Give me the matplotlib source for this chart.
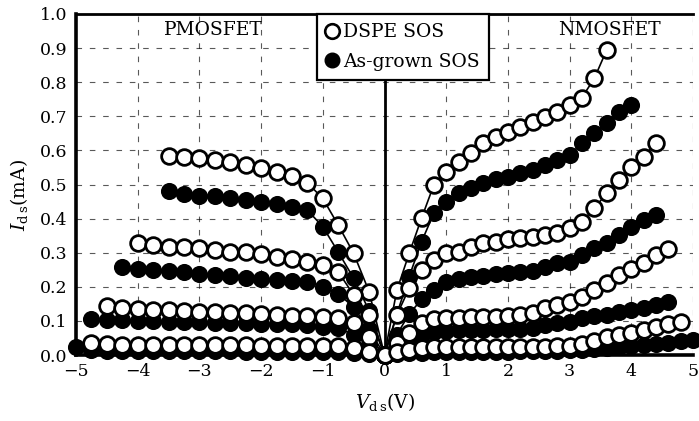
import numpy as np
import matplotlib
matplotlib.use('Agg')
import matplotlib.pyplot as plt
from matplotlib.lines import Line2D

plt.rcParams['font.family'] = ['DejaVu Serif']
plt.rcParams['mathtext.fontset'] = 'dejavuserif'

# voltage grids (V)
vp = [-5.0, -4.75, -4.5, -4.25, -4.0, -3.75, -3.5, -3.25, -3.0, -2.75, -2.5,
      -2.25, -2.0, -1.75, -1.5, -1.25, -1.0, -0.75, -0.5, -0.25, 0.0]
vn = [0.0, 0.2, 0.4, 0.6, 0.8, 1.0, 1.2, 1.4, 1.6, 1.8, 2.0, 2.2, 2.4, 2.6,
      2.8, 3.0, 3.2, 3.4, 3.6, 3.8, 4.0, 4.2, 4.4, 4.6, 4.8, 5.0]

# PMOSFET curves (mA), each ends at Vds = 0
p_open = [
    [0.584, 0.582, 0.577, 0.572, 0.565, 0.558, 0.549, 0.538, 0.526, 0.505,
     0.459, 0.381, 0.298, 0.186, 0.0],
    [0.327, 0.323, 0.318, 0.316, 0.313, 0.308, 0.303, 0.301, 0.295, 0.288,
     0.281, 0.274, 0.264, 0.244, 0.176, 0.117, 0.0],
    [0.145, 0.139, 0.136, 0.133, 0.131, 0.129, 0.127, 0.125, 0.123, 0.122,
     0.120, 0.117, 0.115, 0.113, 0.110, 0.108, 0.094, 0.053, 0.0],
    [0.034, 0.031, 0.030, 0.030, 0.030, 0.029, 0.029, 0.029, 0.028, 0.028,
     0.028, 0.027, 0.027, 0.027, 0.026, 0.026, 0.025, 0.020, 0.009, 0.0],
]
p_fill = [
    [0.481, 0.472, 0.467, 0.465, 0.460, 0.455, 0.450, 0.443, 0.435, 0.425,
     0.376, 0.302, 0.225, 0.130, 0.0],
    [0.257, 0.251, 0.249, 0.247, 0.244, 0.239, 0.236, 0.232, 0.227, 0.224,
     0.221, 0.217, 0.214, 0.200, 0.180, 0.140, 0.075, 0.0],
    [0.107, 0.104, 0.102, 0.100, 0.099, 0.098, 0.097, 0.096, 0.095, 0.094,
     0.093, 0.092, 0.091, 0.090, 0.088, 0.083, 0.078, 0.060, 0.030, 0.0],
    [0.022, 0.014, 0.012, 0.012, 0.012, 0.012, 0.011, 0.011, 0.011, 0.011,
     0.011, 0.010, 0.010, 0.010, 0.010, 0.010, 0.009, 0.008, 0.006, 0.004, 0.0],
]

# NMOSFET curves (mA), each starts at Vds = 0
n_open = [
    [0.0, 0.190, 0.298, 0.401, 0.499, 0.538, 0.567, 0.591, 0.621, 0.640,
     0.655, 0.670, 0.684, 0.699, 0.713, 0.733, 0.755, 0.811, 0.894],
    [0.0, 0.117, 0.196, 0.250, 0.279, 0.298, 0.303, 0.318, 0.327, 0.332,
     0.339, 0.342, 0.347, 0.352, 0.357, 0.373, 0.391, 0.430, 0.474, 0.513,
     0.552, 0.582, 0.623],
    [0.0, 0.034, 0.064, 0.093, 0.105, 0.108, 0.109, 0.110, 0.111, 0.112,
     0.115, 0.118, 0.124, 0.137, 0.147, 0.156, 0.171, 0.191, 0.210, 0.235,
     0.251, 0.269, 0.293, 0.310],
    [0.0, 0.010, 0.015, 0.020, 0.022, 0.023, 0.024, 0.024, 0.024, 0.024,
     0.024, 0.024, 0.024, 0.024, 0.025, 0.027, 0.032, 0.042, 0.052, 0.060,
     0.065, 0.073, 0.083, 0.090, 0.097],
]
n_fill = [
    [0.0, 0.120, 0.230, 0.332, 0.416, 0.450, 0.474, 0.489, 0.503, 0.515,
     0.523, 0.533, 0.543, 0.557, 0.572, 0.586, 0.621, 0.652, 0.679, 0.713,
     0.733],
    [0.0, 0.060, 0.120, 0.163, 0.190, 0.215, 0.222, 0.228, 0.233, 0.237,
     0.241, 0.244, 0.247, 0.259, 0.269, 0.274, 0.293, 0.315, 0.329, 0.352,
     0.376, 0.396, 0.411],
    [0.0, 0.025, 0.045, 0.060, 0.068, 0.071, 0.072, 0.073, 0.074, 0.075,
     0.076, 0.077, 0.078, 0.088, 0.093, 0.098, 0.108, 0.113, 0.117, 0.127,
     0.132, 0.137, 0.147, 0.156],
    [0.0, 0.004, 0.006, 0.007, 0.008, 0.008, 0.009, 0.009, 0.010, 0.010,
     0.010, 0.011, 0.011, 0.012, 0.013, 0.014, 0.016, 0.018, 0.020, 0.022,
     0.025, 0.028, 0.031, 0.035, 0.040, 0.045],
]

xticks = [-5, -4, -3, -2, -1, 0, 1, 2, 3, 4, 5]
xticklabels = ['\u22125', '\u22124', '\u22123', '\u22122', '\u22121', '0',
               '1', '2', '3', '4', '5']
yticks = [0.0, 0.1, 0.2, 0.3, 0.4, 0.5, 0.6, 0.7, 0.8, 0.9, 1.0]

fig = plt.figure(figsize=(6.99, 4.21), dpi=100)
ax = fig.add_axes([76/699, 1-355/421, 617/699, 341/421])

ms = 11.3
filled_kw = dict(color='black', lw=1.2, marker='o', ms=ms, mfc='black',
                 mec='black', mew=1.0, clip_on=False, zorder=3)
open_kw = dict(color='black', lw=1.2, marker='o', ms=ms, mfc='white',
               mec='black', mew=2.0, clip_on=False, zorder=4)

for cur in p_fill:
    ax.plot(vp[-len(cur):], cur, **filled_kw)
for cur in n_fill:
    ax.plot(vn[:len(cur)], cur, **filled_kw)
for cur in p_open:
    ax.plot(vp[-len(cur):], cur, **open_kw)
for cur in n_open:
    ax.plot(vn[:len(cur)], cur, **open_kw)

ax.set_xlim(-5, 5)
ax.set_ylim(0, 1.0)
ax.set_xticks(xticks)
ax.set_xticklabels(xticklabels)
ax.set_yticks(yticks)
ax.set_yticklabels(['%.1f' % t for t in yticks])
ax.tick_params(length=0, labelsize=12.5, pad=6)

ax.grid(True, color='black', lw=0.8, ls=(0, (5, 7)), alpha=0.65)
ax.axvline(0, color='black', lw=2.0, zorder=2)

for side in ['left', 'bottom']:
    ax.spines[side].set_linewidth(2.6)
ax.spines['top'].set_linewidth(2.0)
ax.spines['right'].set_visible(False)

ax.text(-2.78, 0.953, 'PMOSFET', fontsize=13.5, ha='center', va='center')
ax.text(3.65, 0.953, 'NMOSFET', fontsize=13.5, ha='center', va='center')

handles = [
    Line2D([], [], ls='none', marker='o', ms=10.5, mfc='white', mec='black', mew=1.9),
    Line2D([], [], ls='none', marker='o', ms=10.5, mfc='black', mec='black'),
]
leg = ax.legend(handles, ['DSPE SOS', 'As-grown SOS'], loc='upper left',
                bbox_to_anchor=(0.39, 1.0), borderaxespad=0, fontsize=13.5,
                frameon=True, fancybox=False, handlelength=0.6,
                handletextpad=0.3, borderpad=0.5, labelspacing=0.6)
leg.get_frame().set_edgecolor('black')
leg.get_frame().set_linewidth(1.6)
leg.get_frame().set_alpha(1.0)
leg.set_zorder(10)

ax.set_xlabel(r'$V_{\rm d\,s}$(V)', fontsize=13.5, labelpad=8)
ax.set_ylabel(r'$I_{\rm d\,s}$(mA)', fontsize=13.5)
ax.yaxis.set_label_coords(-0.075, 0.47)

fig.savefig('out.png', dpi=100)
